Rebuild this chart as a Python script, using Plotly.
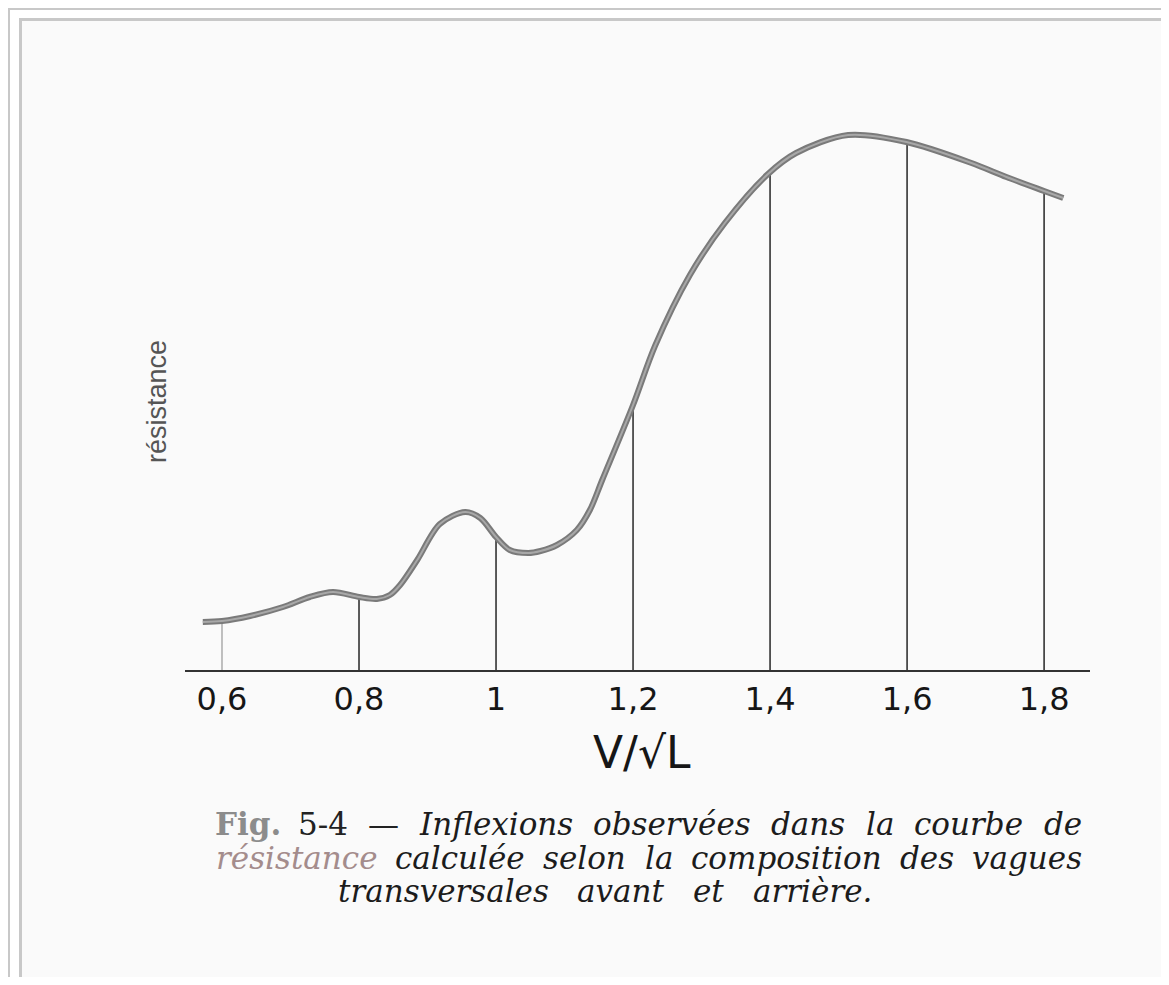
import numpy as np
import plotly.graph_objects as go

# page is 1169x985; the html body has an 8px margin, so the figure is inset
PAGE_W, PAGE_H = 1169, 985
OFF = 8
W, H = PAGE_W - 2 * OFF, PAGE_H - 2 * OFF

# Curve data (V/sqrt(L) vs resistance, arbitrary units)
speed = [0.572, 0.600, 0.641, 0.689, 0.728, 0.762, 0.800, 0.826, 0.845, 0.860, 0.885,
         0.918, 0.955, 0.977, 1.000, 1.020, 1.047, 1.065, 1.089, 1.118, 1.137, 1.155,
         1.200, 1.232, 1.283, 1.334, 1.397, 1.438, 1.514, 1.599, 1.694, 1.745, 1.800, 1.828]
resistance = [0.48, 0.49, 0.54, 0.63, 0.73, 0.78, 0.73, 0.71, 0.75, 0.85, 1.10,
              1.46, 1.58, 1.52, 1.33, 1.20, 1.17, 1.19, 1.25, 1.40, 1.60, 1.90,
              2.65, 3.24, 3.95, 4.47, 4.96, 5.17, 5.35, 5.28, 5.07, 4.93, 4.79, 4.72]

tick_vals = [0.6, 0.8, 1.0, 1.2, 1.4, 1.6, 1.8]
tick_text = ["0,6", "0,8", "1", "1,2", "1,4", "1,6", "1,8"]

x_range = [0.546, 1.867]
y_range = [0, 5.70]

# plot-area placement in page pixels
px_left, px_right = 185, 1090
py_bottom, py_top = 670, 100


def px(x):
    return (x - OFF) / W


def py(y):
    return 1 - (y - OFF) / H


fig = go.Figure()

# vertical drop lines from axis to curve
tops = np.interp(tick_vals, speed, resistance)
for i, (tv, tp) in enumerate(zip(tick_vals, tops)):
    fig.add_trace(go.Scatter(
        x=[tv, tv], y=[0, tp], mode="lines",
        line=dict(color="#b0b0b0" if i == 0 else "#333333", width=1.6),
        hoverinfo="skip", showlegend=False))

# the resistance curve (dark edge + lighter core, like the scanned pen line)
fig.add_trace(go.Scatter(
    x=speed, y=resistance, mode="lines",
    line=dict(color="#7a7a7a", width=6, shape="spline", smoothing=0.9),
    hoverinfo="skip", showlegend=False))
fig.add_trace(go.Scatter(
    x=speed, y=resistance, mode="lines",
    line=dict(color="#a8a8a8", width=2, shape="spline", smoothing=0.9),
    hoverinfo="skip", showlegend=False))

frame = "#c8c8c8"
shapes = [
    dict(type="rect", xref="paper", yref="paper", x0=px(22), x1=px(PAGE_W + 20),
         y0=py(PAGE_H + 20), y1=py(21), fillcolor="#fafafa", line=dict(width=0), layer="below"),
    dict(type="rect", xref="paper", yref="paper", x0=px(6), x1=px(10),
         y0=py(PAGE_H + 20), y1=py(6), fillcolor=frame, line=dict(width=0), layer="below"),
    dict(type="rect", xref="paper", yref="paper", x0=px(6), x1=px(PAGE_W + 20),
         y0=py(10), y1=py(6), fillcolor=frame, line=dict(width=0), layer="below"),
    dict(type="rect", xref="paper", yref="paper", x0=px(19), x1=px(22),
         y0=py(PAGE_H + 20), y1=py(18), fillcolor=frame, line=dict(width=0), layer="below"),
    dict(type="rect", xref="paper", yref="paper", x0=px(19), x1=px(PAGE_W + 20),
         y0=py(21), y1=py(18), fillcolor=frame, line=dict(width=0), layer="below"),
]

annotations = []
annotations.append(dict(xref="paper", yref="paper", x=px(642), y=py(752),
                        text="V/√L", showarrow=False, xanchor="center", yanchor="middle",
                        font=dict(family="DejaVu Sans", size=44, color="#161616")))
annotations.append(dict(xref="paper", yref="paper", x=px(157), y=py(402),
                        text="résistance", showarrow=False, textangle=-90,
                        xanchor="center", yanchor="middle",
                        font=dict(family="Liberation Sans Narrow, Liberation Sans", size=27,
                                  color="#555555")))

# caption: justified word by word
serif = "DejaVu Serif"
cap_size = 31
CW = {'a': .596, 'b': .640, 'c': .560, 'd': .640, 'e': .592, 'f': .370, 'g': .640,
      'h': .644, 'i': .320, 'j': .310, 'k': .606, 'l': .320, 'm': .948, 'n': .644,
      'o': .602, 'p': .640, 'q': .640, 'r': .478, 's': .513, 't': .402, 'u': .644,
      'v': .565, 'w': .856, 'x': .564, 'y': .565, 'z': .527, 'é': .592, 'è': .592,
      '.': .318, '-': .338, '—': 1.0, 'F': .653, 'I': .365, '5': .636, '4': .636}


def est_width(word):
    return sum(CW.get(ch, .6) for ch in word) * cap_size


line1 = [("<b>Fig.</b>", "Fig.", "#8c8c8c", False), ("5-4", "5-4", "#222", False),
         ("—", "—", "#222", False),
         ("Inflexions", "Inflexions", "#1c1c1c", True), ("observées", "observées", "#1c1c1c", True),
         ("dans", "dans", "#1c1c1c", True), ("la", "la", "#1c1c1c", True),
         ("courbe", "courbe", "#1c1c1c", True), ("de", "de", "#1c1c1c", True)]
line2 = [("résistance", "résistance", "#a48c8c", True), ("calculée", "calculée", "#1c1c1c", True),
         ("selon", "selon", "#1c1c1c", True), ("la", "la", "#1c1c1c", True),
         ("composition", "composition", "#1c1c1c", True), ("des", "des", "#1c1c1c", True),
         ("vagues", "vagues", "#1c1c1c", True)]
line3 = [("transversales", "transversales", "#1c1c1c", True), ("avant", "avant", "#1c1c1c", True),
         ("et", "et", "#1c1c1c", True), ("arrière.", "arrière.", "#1c1c1c", True)]


def justify(words, left, right, ypix):
    widths = [est_width(plain) for _, plain, _, _ in words]
    gap = (right - left - sum(widths)) / (len(words) - 1)
    x = left
    for (w, plain, col, it), wd in zip(words, widths):
        txt = f"<i>{w}</i>" if it else w
        annotations.append(dict(xref="paper", yref="paper", x=px(x + wd / 2), y=py(ypix),
                                text=txt, showarrow=False, xanchor="center", yanchor="middle",
                                font=dict(family=serif, size=cap_size, color=col)))
        x += wd + gap


justify(line1, 218, 1082, 824)
justify(line2, 216, 1082, 858)
justify(line3, 338, 872, 891)

fig.update_layout(
    width=W, height=H,
    margin=dict(l=0, r=0, t=0, b=0, autoexpand=False),
    paper_bgcolor="#ffffff", plot_bgcolor="rgba(0,0,0,0)",
    showlegend=False,
    xaxis=dict(domain=[px(px_left), px(px_right)], range=x_range,
               tickvals=tick_vals, ticktext=tick_text, ticks="",
               showgrid=False, zeroline=False, showline=True,
               linecolor="#333333", linewidth=2,
               tickfont=dict(family="DejaVu Sans", size=32, color="#161616"),
               automargin=False),
    yaxis=dict(domain=[py(py_bottom), py(py_top)], range=y_range,
               showticklabels=False, showgrid=False, zeroline=False, showline=False,
               ticks="", automargin=False),
    shapes=shapes,
    annotations=annotations,
)

fig.write_html("out.html")
